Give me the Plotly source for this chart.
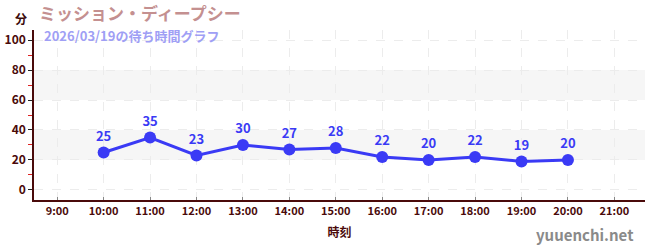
import plotly.graph_objects as go

hours = [10, 11, 12, 13, 14, 15, 16, 17, 18, 19, 20]
waits = [25, 35, 23, 30, 27, 28, 22, 20, 22, 19, 20]
tick_hours = list(range(9, 22))
tick_labels = [f"<b>{h}:00</b>" for h in tick_hours]
y_ticks = [0, 20, 40, 60, 80, 100]
y_labels = [f"<b>{v}</b>" for v in y_ticks]
bands = [(20, 40), (60, 80)]

FONT = "Noto Sans CJK JP"
AXC = "#4a0a0a"

fig = go.Figure()
fig.add_trace(go.Scatter(
    x=hours, y=waits, mode="lines+markers+text",
    text=[str(v) for v in waits], textposition="top center",
    textfont=dict(color="#3a3af5", size=13, family=FONT, weight="bold"),
    line=dict(color="#3a3af5", width=3),
    marker=dict(color="#3a3af5", size=12),
    cliponaxis=False, hoverinfo="skip",
))
shapes = []
for lo, hi in bands:
    shapes.append(dict(type="rect", xref="paper", x0=0, x1=1, yref="y", y0=lo, y1=hi,
                       fillcolor="#f6f6f6", line=dict(width=0), layer="below"))
fig.update_layout(
    width=650, height=250,
    margin=dict(l=31, r=5, t=30, b=50),
    paper_bgcolor="white", plot_bgcolor="white",
    showlegend=False, shapes=shapes,
    font=dict(family=FONT, color=AXC),
    xaxis=dict(range=[8.5, 21.66], tickvals=tick_hours, ticktext=tick_labels,
               showgrid=True, gridcolor="#ececec", griddash="dash", gridwidth=1,
               showline=True, linecolor=AXC, linewidth=1.5,
               ticks="inside", tickcolor="#888", ticklen=3,
               tickfont=dict(size=11, color=AXC, family=FONT),
               title=dict(text="<b>時刻</b>", font=dict(size=12, color=AXC), standoff=12),
               zeroline=False, fixedrange=True),
    yaxis=dict(range=[-6.7, 106.7], tickvals=y_ticks, ticktext=y_labels,
               showgrid=True, gridcolor="#ececec", griddash="dash", gridwidth=1,
               showline=True, linecolor=AXC, linewidth=1.5,
               ticks="outside", tickcolor="#222", ticklen=4,
               tickfont=dict(size=12, color=AXC, family=FONT),
               minor=dict(tickvals=[10, 30, 50, 70, 90], ticks="outside", ticklen=4,
                          tickcolor="#dd2222", showgrid=False),
               zeroline=False, fixedrange=True),
)
pw = 650 - 31 - 5
ph = 250 - 30 - 50
def px(x): return (x - 31) / pw
def py(y): return (250 - 50 - y) / ph
fig.add_annotation(text="<b>分</b>", x=px(18), y=py(18), xref="paper", yref="paper",
                   showarrow=False, xanchor="center", yanchor="middle",
                   font=dict(size=12, color="#3a0a0a", family=FONT))
fig.add_annotation(text="<b>ミッション・ディープシー</b>", x=px(34), y=py(13), xref="paper", yref="paper",
                   showarrow=False, xanchor="left", yanchor="middle",
                   font=dict(size=17, color="#c49090", family=FONT))
fig.add_annotation(text="<b>2026/03/19の待ち時間グラフ</b>", x=px(39), y=py(35), xref="paper", yref="paper",
                   showarrow=False, xanchor="left", yanchor="middle",
                   font=dict(size=13, color="#9f9ff5", family=FONT))
fig.add_annotation(text="<b>yuuenchi.net</b>", x=px(636), y=py(234), xref="paper", yref="paper",
                   showarrow=False, xanchor="right", yanchor="middle",
                   font=dict(size=15, color="#8a8a8a", family=FONT))
fig.write_html("out.html")
